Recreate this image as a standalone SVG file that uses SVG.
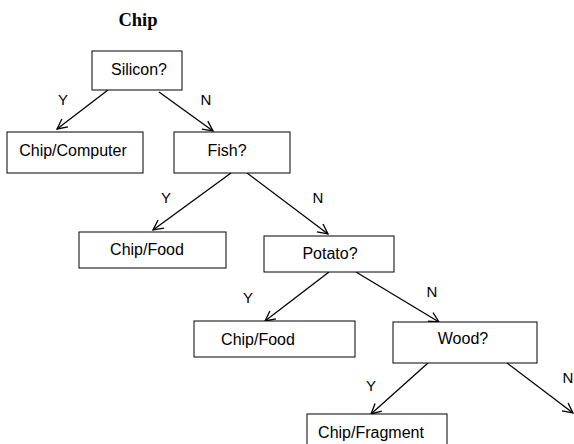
<svg xmlns="http://www.w3.org/2000/svg" width="574" height="444" viewBox="0 0 574 444">
<defs>
<style>
.box{fill:#fff;stroke:#000;stroke-width:1}
.t{font-family:"Liberation Sans",Arial,sans-serif;font-size:16px;fill:#000;text-anchor:middle}
.l{font-family:"Liberation Sans",Arial,sans-serif;font-size:15px;fill:#000;text-anchor:middle}
.e{stroke:#000;stroke-width:1.3;fill:none;marker-end:url(#a)}
</style>
<marker id="a" markerUnits="userSpaceOnUse" markerWidth="12" markerHeight="12" refX="11" refY="6" orient="auto">
<path d="M1,1 L11,6 L1,11" fill="none" stroke="#000" stroke-width="1.3"/>
</marker>
</defs>
<rect width="574" height="444" fill="#fff"/>
<text x="138" y="26" font-family="'Liberation Serif','Times New Roman',serif" font-weight="bold" font-size="18.5" text-anchor="middle">Chip</text>
<g id="connectors">
<line class="e" x1="108" y1="90" x2="57" y2="129"/>
<line class="e" x1="159" y1="92" x2="213" y2="131"/>
<line class="e" x1="231" y1="173" x2="153" y2="230"/>
<line class="e" x1="247" y1="173" x2="328" y2="234"/>
<line class="e" x1="329" y1="272" x2="265" y2="321"/>
<line class="e" x1="356" y1="272" x2="439" y2="322"/>
<line class="e" x1="428" y1="363" x2="371" y2="414"/>
<line class="e" x1="507" y1="363" x2="573" y2="413"/>
<text class="l" x="63" y="105">Y</text>
<text class="l" x="206" y="105">N</text>
<text class="l" x="166" y="203">Y</text>
<text class="l" x="318" y="203">N</text>
<text class="l" x="248" y="303">Y</text>
<text class="l" x="432" y="297">N</text>
<text class="l" x="371" y="391">Y</text>
<text class="l" x="568" y="383">N</text>
</g>
<g id="silicon"><rect class="box" x="92" y="51" width="90" height="39"/><text class="t" x="139" y="75">Silicon?</text></g>
<g id="chip-computer"><rect class="box" x="7" y="132" width="136" height="41"/><text class="t" x="73" y="156">Chip/Computer</text></g>
<g id="fish"><rect class="box" x="174" y="132" width="116" height="41"/><text class="t" x="227" y="156">Fish?</text></g>
<g id="chip-food-1"><rect class="box" x="79" y="232" width="147" height="36"/><text class="t" x="147" y="255">Chip/Food</text></g>
<g id="potato"><rect class="box" x="264" y="236" width="130" height="36"/><text class="t" x="330" y="259">Potato?</text></g>
<g id="chip-food-2"><rect class="box" x="194" y="321" width="161" height="36"/><text class="t" x="258" y="345">Chip/Food</text></g>
<g id="wood"><rect class="box" x="393" y="322" width="144" height="41"/><text class="t" x="463" y="344">Wood?</text></g>
<g id="chip-fragment"><rect class="box" x="307" y="414" width="140" height="45"/><text class="t" x="371" y="438">Chip/Fragment</text></g>
</svg>
